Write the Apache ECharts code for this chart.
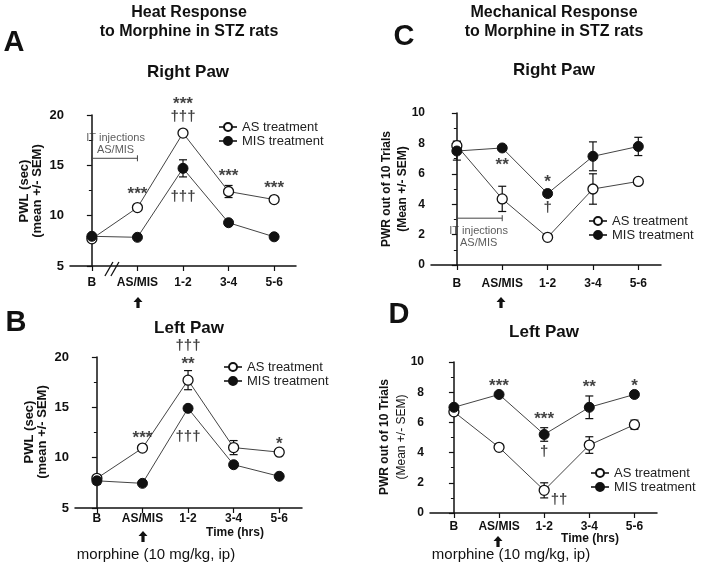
<!DOCTYPE html>
<html><head><meta charset="utf-8">
<script src="https://cdn.jsdelivr.net/npm/echarts@6/dist/echarts.min.js"></script>
<style>html,body{margin:0;padding:0;background:#fff}#c{width:704px;height:567px}</style>
</head><body><div id="c"></div>
<script>
// ---------- data ----------
const categories = ['B', 'AS/MIS', '1-2', '3-4', '5-6'];
const seriesNames = ['AS treatment', 'MIS treatment'];

// A: heat, right paw (PWL sec)
const heatRightAS = [7.7, 10.8, 18.2, 12.4, 11.6];
const heatRightASErr = [0.2, 0, 0, 0.6, 0];
const heatRightMIS = [7.95, 7.85, 14.7, 9.3, 7.9];
const heatRightMISErr = [0, 0, 0.85, 0, 0];
// B: heat, left paw
const heatLeftAS = [7.95, 10.95, 17.7, 11.0, 10.55];
const heatLeftASErr = [0, 0, 0.95, 0.7, 0];
const heatLeftMIS = [7.7, 7.45, 14.9, 9.3, 8.15];
const heatLeftMISErr = [0.35, 0, 0, 0, 0];
// C: mechanical, right paw (PWR out of 10)
const mechRightAS = [7.85, 4.35, 1.82, 5.0, 5.5];
const mechRightASErr = [0.3, 0.83, 0, 1.0, 0];
const mechRightMIS = [7.5, 7.7, 4.7, 7.15, 7.8];
const mechRightMISErr = [0.6, 0, 0, 0.95, 0.6];
// D: mechanical, left paw
const mechLeftAS = [6.7, 4.35, 1.5, 4.5, 5.85];
const mechLeftASErr = [0, 0, 0.5, 0.55, 0.3];
const mechLeftMIS = [7.0, 7.85, 5.2, 7.0, 7.85];
const mechLeftMISErr = [0, 0, 0.45, 0.75, 0];

// significance marks [x, y, text]
const annotA = [[1, 12.5, '***'], [2, 21.5, '***'], [2, 19.8, '†††'], [2, 11.9, '†††'], [3, 14.3, '***'], [4, 13.1, '***']];
const annotB = [[2, 21.15, '†††'], [2, 19.7, '**'], [1, 12.35, '***'], [2, 12.1, '†††'], [4, 11.75, '*']];
const annotC = [[1, 6.8, '**'], [2, 5.7, '*'], [2, 3.74, '†']];
const annotD = [[1, 8.68, '***'], [2, 6.48, '***'], [2, 4.07, '†'], [2.33, 0.88, '††'], [3, 8.6, '**'], [4, 8.68, '*']];

// IT injection brackets [x0, x1, y] and their labels
const bracketA = [[0, 1, 15.7]];
const bracketLabelA = [[0.52, 17.75, 'IT injections'], [0.52, 16.5, 'AS/MIS']];
const bracketC = [[0, 1, 3.08]];
const bracketLabelC = [[0.48, 2.26, 'IT injections'], [0.48, 1.43, 'AS/MIS']];

const yTicksHeat = {min: 5, max: 20, interval: 5};
const yTicksMech = {min: 0, max: 10, interval: 2};

// ---------- chart ----------
const FF = '"Liberation Sans", Arial, sans-serif';
const chart = echarts.init(document.getElementById('c'), null, {renderer: 'canvas'});

const grids = [
  {left: 70, top: 115, width: 226, height: 151},
  {left: 75, top: 357, width: 227, height: 151},
  {left: 431, top: 113, width: 230, height: 152},
  {left: 430, top: 362, width: 227, height: 151}
];
const xRanges = [[-0.48, 4.48], [-0.48, 4.5], [-0.57, 4.5], [-0.53, 4.5]];
const xLabelMargins = [11, 5, 13, 8];

const xAxes = grids.map((g, i) => ({
  type: 'value', gridIndex: i, min: xRanges[i][0], max: xRanges[i][1],
  axisLine: {show: true, lineStyle: {color: '#111', width: 1.5}},
  axisTick: {show: true, customValues: categories.map((c, k) => k), length: 5, lineStyle: {color: '#111', width: 1.2}},
  axisLabel: {show: true, customValues: categories.map((c, k) => k), margin: xLabelMargins[i],
    formatter: v => categories[Math.round(v)], fontFamily: FF, fontWeight: 'bold', fontSize: 12, color: '#111'},
  splitLine: {show: false}
}));
const yAxes = grids.map((g, i) => {
  const t = i < 2 ? yTicksHeat : yTicksMech;
  return {
    type: 'value', gridIndex: i, min: t.min, max: t.max, interval: t.interval,
    axisLine: {show: true, lineStyle: {color: '#111', width: 1.5}},
    axisTick: {show: true, length: 5, lineStyle: {color: '#111', width: 1.2}},
    minorTick: {show: true, splitNumber: 2, length: 3, lineStyle: {color: '#111', width: 1}},
    axisLabel: {margin: 6, fontFamily: FF, fontWeight: 'bold', fontSize: i < 2 ? 13 : 12, color: '#111'},
    splitLine: {show: false}
  };
});

function errSeries(gi, vals, errs) {
  return {
    type: 'custom', xAxisIndex: gi, yAxisIndex: gi, z: 2, silent: true,
    data: vals.map((v, k) => [k, v, errs[k]]),
    renderItem: (params, api) => {
      const x = api.value(0), v = api.value(1), e = api.value(2);
      if (!e) return null;
      const top = api.coord([x, v + e]), bot = api.coord([x, v - e]);
      const st = {stroke: '#111', lineWidth: 1.2};
      return {type: 'group', children: [
        {type: 'line', shape: {x1: top[0], y1: top[1], x2: bot[0], y2: bot[1]}, style: st},
        {type: 'line', shape: {x1: top[0] - 4, y1: top[1], x2: top[0] + 4, y2: top[1]}, style: st},
        {type: 'line', shape: {x1: bot[0] - 4, y1: bot[1], x2: bot[0] + 4, y2: bot[1]}, style: st}
      ]};
    }
  };
}
function lineSeries(gi, name, vals, open) {
  return {
    type: 'line', name, xAxisIndex: gi, yAxisIndex: gi, z: 3,
    data: vals.map((v, k) => [k, v]),
    symbol: 'circle', symbolSize: 10, showSymbol: true,
    lineStyle: {color: '#444', width: 1},
    itemStyle: open ? {color: '#fff', borderColor: '#111', borderWidth: 1.3} : {color: '#111', borderColor: '#111', borderWidth: 1},
    emphasis: {disabled: true}
  };
}
function textSeries(gi, items, font) {
  return {
    type: 'scatter', xAxisIndex: gi, yAxisIndex: gi, z: 4, silent: true, clip: false,
    symbolSize: 0, data: items.map(a => ({value: [a[0], a[1]], name: a[2]})),
    label: Object.assign({show: true, position: 'inside', formatter: p => p.name,
      fontFamily: FF, color: '#111'}, font)
  };
}
function annotSeries(gi, items) {
  const stars = items.filter(a => a[2].indexOf('*') >= 0);
  const dags = items.filter(a => a[2].indexOf('*') < 0);
  const s1 = textSeries(gi, stars, {fontSize: 17, fontWeight: 'bold', offset: [0, 4]});
  const s2 = textSeries(gi, dags, {fontSize: 15, fontWeight: 'bold', offset: [0, 0]});
  return [s1, s2];
}
function bracketSeries(gi, items) {
  return {
    type: 'custom', xAxisIndex: gi, yAxisIndex: gi, z: 2, silent: true,
    data: items,
    renderItem: (params, api) => {
      const a = api.coord([api.value(0), api.value(2)]), b = api.coord([api.value(1), api.value(2)]);
      const st = {stroke: '#444', lineWidth: 1};
      return {type: 'group', children: [
        {type: 'line', shape: {x1: a[0], y1: a[1], x2: b[0], y2: b[1]}, style: st},
        {type: 'line', shape: {x1: a[0], y1: a[1] - 3, x2: a[0], y2: a[1] + 3}, style: st},
        {type: 'line', shape: {x1: b[0], y1: b[1] - 3, x2: b[0], y2: b[1] + 3}, style: st}
      ]};
    }
  };
}
function breakSeries(gi, xv, yv) {
  return {
    type: 'custom', xAxisIndex: gi, yAxisIndex: gi, z: 5, silent: true, clip: false,
    data: [[xv, yv]],
    renderItem: (params, api) => {
      const p = api.coord([api.value(0), api.value(1)]);
      const st = {stroke: '#111', lineWidth: 1.3};
      return {type: 'group', children: [
        {type: 'line', shape: {x1: p[0] - 7, y1: p[1] + 10, x2: p[0] + 1, y2: p[1] - 4}, style: st},
        {type: 'line', shape: {x1: p[0] - 1, y1: p[1] + 10, x2: p[0] + 7, y2: p[1] - 4}, style: st}
      ]};
    }
  };
}

const panels = [
  [heatRightAS, heatRightASErr, heatRightMIS, heatRightMISErr, annotA],
  [heatLeftAS, heatLeftASErr, heatLeftMIS, heatLeftMISErr, annotB],
  [mechRightAS, mechRightASErr, mechRightMIS, mechRightMISErr, annotC],
  [mechLeftAS, mechLeftASErr, mechLeftMIS, mechLeftMISErr, annotD]
];
let series = [];
panels.forEach((p, gi) => {
  series.push(errSeries(gi, p[0], p[1]), errSeries(gi, p[2], p[3]));
  series.push(lineSeries(gi, seriesNames[0], p[0], true), lineSeries(gi, seriesNames[1], p[2], false));
  series = series.concat(annotSeries(gi, p[4]));
});
series.push(bracketSeries(0, bracketA), textSeries(0, bracketLabelA, {fontSize: 11, color: '#333'}));
series.push(bracketSeries(2, bracketC), textSeries(2, bracketLabelC, {fontSize: 11, color: '#333'}));
series.push(breakSeries(0, 0.44, 5));

const legendPos = [[218, 120], [223, 360], [588, 214], [590, 466]];
const legends = legendPos.map(lp => ({
  left: lp[0], top: lp[1], orient: 'vertical', itemWidth: 18, itemHeight: 10, itemGap: 0,
  selectedMode: false, data: seriesNames, padding: 0,
  textStyle: {fontFamily: FF, fontSize: 13, color: '#222', lineHeight: 14}
}));

function txt(x, y, text, font, extra) {
  return Object.assign({type: 'text', x, y, silent: true,
    style: {text, font, fill: '#111', textAlign: 'center', textVerticalAlign: 'middle'}}, extra || {});
}
function arrow(x, y) {
  return {type: 'polygon', x, y, silent: true,
    shape: {points: [[0, -6], [4.5, -1], [1.6, -1], [1.6, 5], [-1.6, 5], [-1.6, -1], [-4.5, -1]]},
    style: {fill: '#111'}};
}
const B16 = 'bold 16px ' + FF, B17 = 'bold 17px ' + FF;
const graphics = [
  txt(189, 13, 'Heat Response', B16), txt(189, 32, 'to Morphine in STZ rats', B16),
  txt(554, 13, 'Mechanical Response', B16), txt(554, 32, 'to Morphine in STZ rats', B16),
  txt(14, 43, 'A', 'bold 29px ' + FF), txt(404, 37, 'C', 'bold 29px ' + FF),
  txt(16, 323, 'B', 'bold 29px ' + FF), txt(399, 315, 'D', 'bold 29px ' + FF),
  txt(188, 72, 'Right Paw', B17), txt(554, 70, 'Right Paw', B17),
  txt(189, 328, 'Left Paw', B17), txt(544, 332, 'Left Paw', B17),
  txt(24, 191, 'PWL (sec)', 'bold 13px ' + FF, {rotation: Math.PI / 2}),
  txt(37, 191, '(mean +/- SEM)', 'bold 13px ' + FF, {rotation: Math.PI / 2}),
  txt(29, 432, 'PWL (sec)', 'bold 13px ' + FF, {rotation: Math.PI / 2}),
  txt(42, 432, '(mean +/- SEM)', 'bold 13px ' + FF, {rotation: Math.PI / 2}),
  txt(387, 189, 'PWR out of 10 Trials', 'bold 12px ' + FF, {rotation: Math.PI / 2}),
  txt(403, 189, '(Mean +/- SEM)', 'bold 12px ' + FF, {rotation: Math.PI / 2}),
  txt(385, 437, 'PWR out of 10 Trials', 'bold 12px ' + FF, {rotation: Math.PI / 2}),
  txt(402, 437, '(Mean +/- SEM)', '12px ' + FF, {rotation: Math.PI / 2}),
  txt(235, 533, 'Time (hrs)', 'bold 12px ' + FF), txt(590, 539, 'Time (hrs)', 'bold 12px ' + FF),
  txt(156, 555, 'morphine (10 mg/kg, ip)', '15px ' + FF), txt(511, 555, 'morphine (10 mg/kg, ip)', '15px ' + FF),
  arrow(138, 303), arrow(501, 303), arrow(143, 537), arrow(498, 542)
];

chart.setOption({
  animation: false,
  backgroundColor: '#fff',
  grid: grids,
  xAxis: xAxes,
  yAxis: yAxes,
  legend: legends,
  series,
  graphic: graphics
});
</script></body></html>
